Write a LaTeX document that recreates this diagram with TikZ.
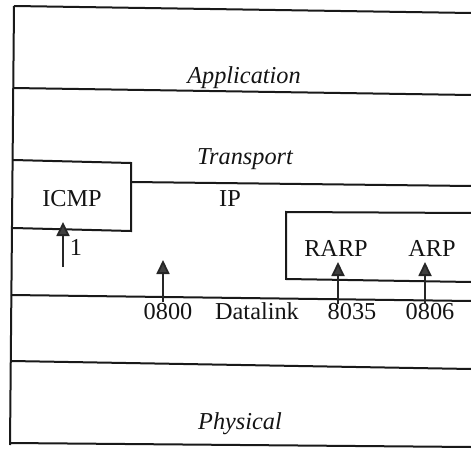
\documentclass[tikz,border=0pt]{standalone}
\usepackage{fontspec}
\setmainfont{Liberation Serif}
\usetikzlibrary{arrows.meta}
\begin{document}
\begin{tikzpicture}[x=1pt,y=-1pt,
  rule/.style={line width=2pt,draw=black!90},
  lbl/.style={anchor=base,inner sep=0pt,font=\fontsize{24.3}{29}\selectfont,text=black!92},
  ilbl/.style={lbl,font=\fontsize{24.3}{29}\selectfont\itshape},
  uparrow/.style={line width=1.8pt,draw=black!85,-{Triangle[width=13pt,length=14pt,fill=black!75]}}]
\useasboundingbox (0,0) rectangle (471,449);
% frame and layer rules
\draw[rule] (14,6) -- (471,13);
\draw[rule] (14,6) -- (10,445);
\draw[rule] (13,88) -- (471,95);
\draw[rule] (13,160) -- (131,163) -- (131,231) -- (13,228);
\draw[rule] (131,182) -- (471,186);
\draw[rule] (471,213) -- (286,212) -- (286,279) -- (471,282);
\draw[rule] (11,295) -- (471,301);
\draw[rule] (11,361) -- (471,369);
\draw[rule] (10,443) -- (471,447);
% labels
\node[ilbl] (app) at (244,84) {Application};
\node[ilbl] (trans) at (245,165) {Transport};
\node[lbl] (icmp) at (72,207) {ICMP};
\node[lbl] (ip) at (230,207) {IP};
\node[lbl] (rarp) at (336,256) {RARP};
\node[lbl] (arp) at (432,256) {ARP};
\node[lbl] (one) at (76,255) {1};
\node[lbl] (t0800) at (168,319) {0800};
\node[lbl] (dl) at (257,319) {Datalink};
\node[lbl] (t8035) at (352,319) {8035};
\node[lbl] (t0806) at (430,319) {0806};
\node[ilbl] (phys) at (240,429) {Physical};
% arrows
\coordinate (s1) at (63,267);  \coordinate (e1) at (63,222);
\coordinate (s2) at (163,302); \coordinate (e2) at (163,260);
\coordinate (s3) at (338,304); \coordinate (e3) at (338,262);
\coordinate (s4) at (425,304); \coordinate (e4) at (425,262);
\draw[uparrow] (s1) -- (e1);
\draw[uparrow] (s2) -- (e2);
\draw[uparrow] (s3) -- (e3);
\draw[uparrow] (s4) -- (e4);
\end{tikzpicture}
\end{document}
